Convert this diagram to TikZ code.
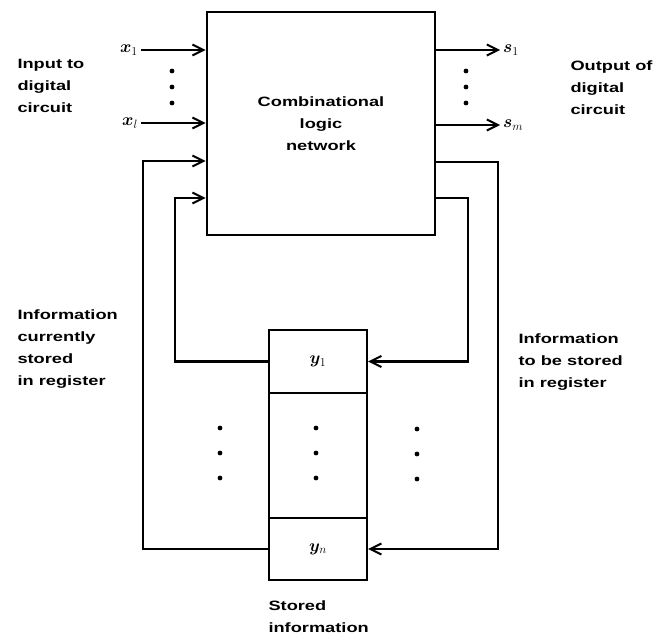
\documentclass[tikz,border=0pt]{standalone}
\usepackage{bm}
\usepackage{fontspec}
\setmainfont{Liberation Sans}[FakeStretch=1.35]
\DeclareMathSizes{13.5}{17}{12}{9}
\usetikzlibrary{arrows.meta}

\begin{document}
\begin{tikzpicture}[x=1pt,y=-1pt,line width=2.4pt,
  every node/.style={font=\bfseries\fontsize{13.5}{22}\selectfont},
  arr/.style={-{Straight Barb[length=11pt,width=11pt,line width=2pt]}},
  regcell/.style={draw,line width=2.4pt,minimum width=98pt,inner sep=0pt}]
\useasboundingbox (0,0) rectangle (661,637);
% combinational logic block
\node[draw,line width=2.6pt,minimum width=228pt,minimum height=223pt,align=center] (net) at (321,123.5) {Combinational\\logic\\network};
% register cells
\node[regcell,minimum height=63pt] (r1) at (318,361.5) {$\bm{y}_1$};
\node[regcell,minimum height=125pt] (rd) at (318,455.5) {};
\node[regcell,minimum height=62pt] (rn) at (318,549) {$\bm{y}_n$};
% inputs and outputs
\node[anchor=east,inner sep=2pt] (x1) at (141,50) {$\bm{x}_1$};
\node[anchor=east,inner sep=2pt] (xl) at (141,123) {$\bm{x}_l$};
\node[anchor=west,inner sep=2pt] (s1) at (500,50) {$\bm{s}_1$};
\node[anchor=west,inner sep=2pt] (sm) at (500,125) {$\bm{s}_m$};
\draw[arr] (x1.east) -- (x1.east -| net.west);
\draw[arr] (xl.east) -- (xl.east -| net.west);
\draw[arr] (s1.west -| net.east) -- (s1.west);
\draw[arr] (sm.west -| net.east) -- (sm.west);
% feedback loops
\coordinate (fl) at (143,161);
\coordinate (gl) at (175,198);
\coordinate (fr) at (498,162);
\coordinate (gr) at (468,198);
\draw[arr] (rn.west) -| (fl) -- (fl -| net.west);
\draw[arr] (r1.west) -| (gl) -- (gl -| net.west);
\draw[arr] (fr -| net.east) -- (fr) |- (rn.east);
\draw[arr] (gr -| net.east) -- (gr) |- (r1.east);
% dots
\foreach \y in {71,87,103} {
  \fill (172,\y) circle (2.4pt);
  \fill (466,\y) circle (2.4pt);
}
\foreach \y in {428,453,478} {
  \fill (220,\y) circle (2.4pt);
  \fill (316,\y) circle (2.4pt);
  \fill (417,\y+1) circle (2.4pt);
}
% captions
\node[anchor=west,align=left] (cin) at (13,86) {Input to\\digital\\circuit};
\node[anchor=west,align=left] (cout) at (566,88) {Output of\\digital\\circuit};
\node[anchor=west,align=left] (ccur) at (13,349) {Information\\currently\\stored\\in register};
\node[anchor=west,align=left] (cnew) at (514,362) {Information\\to be stored\\in register};
\node[anchor=west,align=left] (cst) at (264,617) {Stored\\information};
\end{tikzpicture}
\end{document}
